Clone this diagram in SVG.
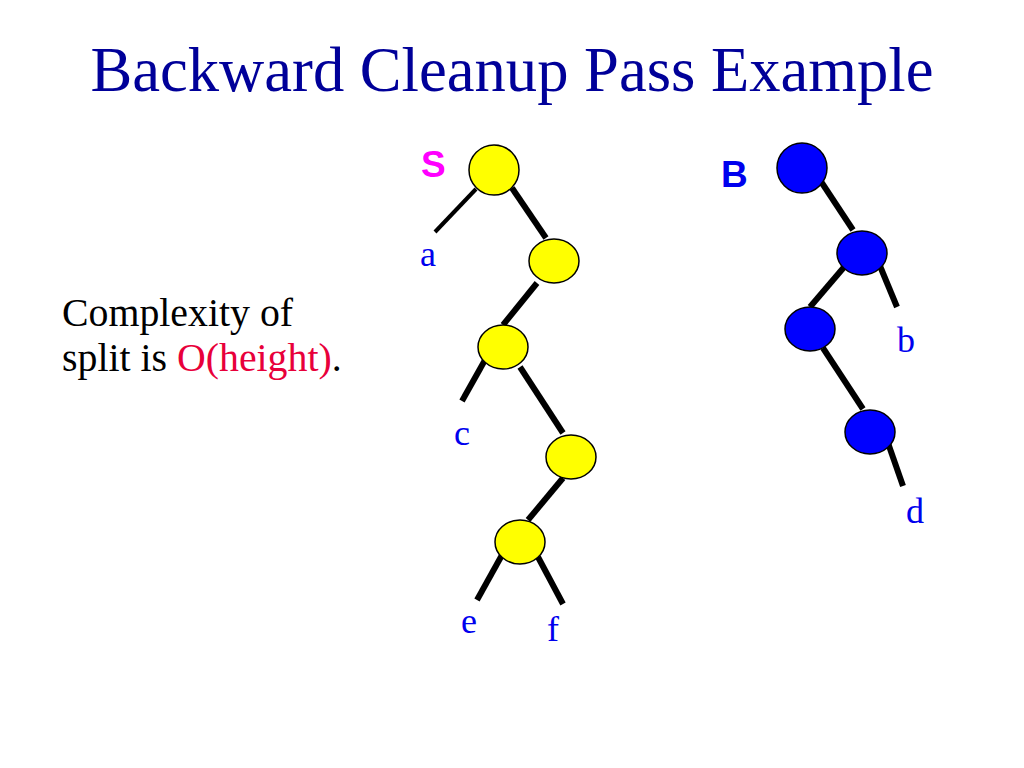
<svg xmlns="http://www.w3.org/2000/svg" width="1024" height="768" viewBox="0 0 1024 768">
<style>
.title{font-family:"Liberation Serif","Times New Roman",serif;font-size:62.6px;fill:#000099}
.body{font-family:"Liberation Serif","Times New Roman",serif;font-size:39.8px;fill:#000000}
.red{fill:#E8003A}
.lbl{font-family:"Liberation Serif","Times New Roman",serif;font-size:36px;fill:#0000EE}
.tag{font-family:"Liberation Sans",Arial,sans-serif;font-size:37px;font-weight:bold}
.y{fill:#FFFF00;stroke:#000;stroke-width:1.5}
.b{fill:#0000FF;stroke:#000;stroke-width:1.5}
.e{stroke:#000;stroke-width:6;fill:none}
.t{stroke:#000;stroke-width:4;fill:none}
</style>
<rect width="1024" height="768" fill="#fff"/>
<text class="title" x="512" y="91" text-anchor="middle">Backward Cleanup Pass Example</text>
<text class="body" x="62" y="326">Complexity of</text>
<text class="body" x="62" y="371">split is <tspan class="red">O(height)</tspan>.</text>
<g id="connectors">
<line class="t" x1="476" y1="189" x2="435" y2="232"/>
<line class="e" x1="512" y1="188" x2="546" y2="238"/>
<line class="e" x1="537" y1="283" x2="503" y2="325"/>
<line class="e" x1="485" y1="360" x2="462" y2="401"/>
<line class="e" x1="520" y1="367" x2="563" y2="433"/>
<line class="e" x1="563" y1="478" x2="528" y2="520"/>
<line class="e" x1="502" y1="555" x2="477" y2="600"/>
<line class="e" x1="538" y1="557" x2="563" y2="604"/>
<line class="e" x1="820" y1="180" x2="853" y2="230"/>
<line class="e" x1="845" y1="266" x2="810" y2="307"/>
<line class="e" x1="880" y1="266" x2="897" y2="307"/>
<line class="e" x1="823" y1="348" x2="863" y2="409"/>
<line class="e" x1="888" y1="443" x2="903" y2="486"/>
</g>
<g id="S1"><ellipse class="y" cx="494" cy="170" rx="25" ry="25"/></g>
<g id="S2"><ellipse class="y" cx="554" cy="261" rx="25" ry="22"/></g>
<g id="S3"><ellipse class="y" cx="503" cy="347" rx="25" ry="22"/></g>
<g id="S4"><ellipse class="y" cx="571" cy="457" rx="25" ry="22"/></g>
<g id="S5"><ellipse class="y" cx="520" cy="542" rx="25" ry="22"/></g>
<g id="B1"><ellipse class="b" cx="802" cy="168" rx="25" ry="25"/></g>
<g id="B2"><ellipse class="b" cx="862" cy="253" rx="25" ry="22"/></g>
<g id="B3"><ellipse class="b" cx="810" cy="329" rx="25" ry="22"/></g>
<g id="B4"><ellipse class="b" cx="870" cy="432" rx="25" ry="22"/></g>
<text class="tag" x="421" y="177" fill="#FF00FF">S</text>
<text class="tag" x="721" y="187" fill="#0000EE">B</text>
<text class="lbl" x="420" y="266">a</text>
<text class="lbl" x="454" y="445">c</text>
<text class="lbl" x="461" y="633">e</text>
<text class="lbl" x="547" y="641">f</text>
<text class="lbl" x="897" y="352">b</text>
<text class="lbl" x="906" y="523">d</text>
</svg>
